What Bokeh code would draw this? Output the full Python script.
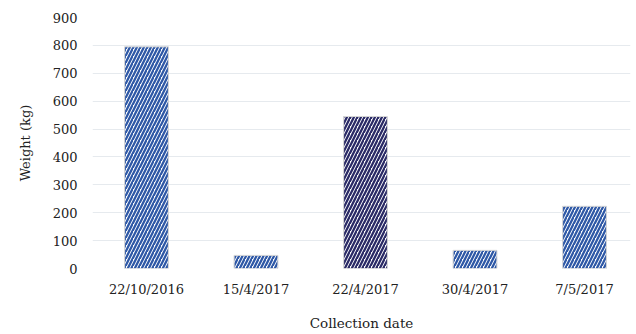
from bokeh.plotting import figure
from bokeh.models import ColumnDataSource, Range1d, FixedTicker, SingleIntervalTicker
from bokeh.embed import file_html
from bokeh.resources import INLINE

dates = ["22/10/2016", "15/4/2017", "22/4/2017", "30/4/2017", "7/5/2017"]
weights = [795, 47, 545, 65, 223]
colors = ["#2E58A6", "#2E58A6", "#2A2A66", "#2E58A6", "#2E58A6"]

xpos = list(range(len(dates)))
src = ColumnDataSource(dict(x=xpos, top=weights, color=colors))

p = figure(width=636, height=334, output_backend="svg", toolbar_location=None,
           x_range=Range1d(-0.493, 4.42), y_range=Range1d(0, 900),
           min_border_left=92, min_border_right=6, min_border_top=17, min_border_bottom=66)
p.outline_line_color = None
p.background_fill_color = "white"
p.border_fill_color = "white"

p.vbar(x="x", top="top", width=0.4, bottom=0, source=src,
       fill_color="white", line_color="#D4D4D4", line_width=1,
       hatch_pattern="/", hatch_color="color", hatch_weight=2.3, hatch_scale=7)

font = "DejaVu Serif"
p.xaxis.ticker = FixedTicker(ticks=xpos)
p.xaxis.major_label_overrides = {i: d for i, d in enumerate(dates)}
p.yaxis.ticker = SingleIntervalTicker(interval=100)

for ax in (p.xaxis[0], p.yaxis[0]):
    ax.axis_line_color = None
    ax.major_tick_line_color = None
    ax.minor_tick_line_color = None
    ax.major_label_text_font = font
    ax.major_label_text_font_size = "13px"
    ax.major_label_text_color = "#222222"
    ax.axis_label_text_font = font
    ax.axis_label_text_font_size = "13px"
    ax.axis_label_text_font_style = "normal"
    ax.axis_label_text_color = "#222222"

p.xaxis.axis_label_text_font_size = "13.5px"
p.xaxis.axis_label = "Collection date"
p.yaxis.axis_label = "Weight (kg)"
p.xaxis.major_label_standoff = 7
p.xaxis.axis_label_standoff = 15
p.yaxis.major_label_standoff = 9
p.yaxis.axis_label_standoff = 17

p.xgrid.grid_line_color = None
p.ygrid.grid_line_color = "#E6EAEE"
p.ygrid.grid_line_width = 1

open("out.html", "w").write(file_html(p, INLINE))
